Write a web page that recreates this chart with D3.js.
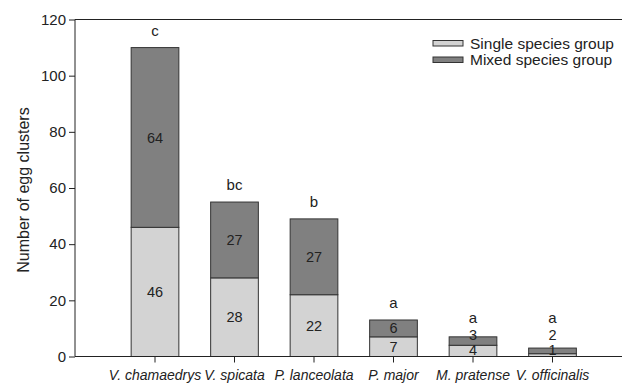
<!DOCTYPE html>
<html>
<head>
<meta charset="utf-8">
<script src="https://cdn.jsdelivr.net/npm/d3@7"></script>
<style>
  body { margin: 0; background: #fff; }
  text { font-family: "Liberation Sans", Arial, sans-serif; fill: #222; }
</style>
</head>
<body>
<script>
var species = ["V. chamaedrys", "V. spicata", "P. lanceolata", "P. major", "M. pratense", "V. officinalis"];
var single = [46, 28, 22, 7, 4, 1];
var mixed = [64, 27, 27, 6, 3, 2];
var letters = ["c", "bc", "b", "a", "a", "a"];
var yTicks = [0, 20, 40, 60, 80, 100, 120];
var seriesNames = ["Single species group", "Mixed species group"];
var colors = ["#d3d3d3", "#808080"];

var width = 622, height = 383;
var svg = d3.select("body").append("svg")
  .attr("width", width)
  .attr("height", height);

var x = d3.scaleBand().domain(species).range([115.25, 592.25])
  .paddingInner(0.4).paddingOuter(0.2);
var y = d3.scaleLinear().domain([0, 120]).range([356.5, 19.5]);

var rows = species.map(function (s, i) {
  return { name: s, single: single[i], mixed: mixed[i], letter: letters[i] };
});
var stack = d3.stack().keys(["single", "mixed"])(rows);

// bars
var layers = svg.append("g").selectAll("g").data(stack).enter().append("g")
  .attr("fill", function (d, i) { return colors[i]; });
layers.selectAll("rect").data(function (d) { return d; }).enter().append("rect")
  .attr("x", function (d) { return x(d.data.name); })
  .attr("width", x.bandwidth())
  .attr("y", function (d) { return y(d[1]); })
  .attr("height", function (d) { return y(d[0]) - y(d[1]); })
  .attr("stroke", "#333")
  .attr("stroke-width", 1);

// segment labels (pushed apart when the segments are thin)
var labelG = svg.append("g");
var topLabel = {};
rows.forEach(function (r) {
  var y0 = Math.min((y(0) + y(r.single)) / 2, y(0) - 7);
  var y1 = (y(r.single) + y(r.single + r.mixed)) / 2;
  if (y0 - y1 < 15) y1 = y0 - 15;
  topLabel[r.name] = y1;
  [[r.single, y0], [r.mixed, y1]].forEach(function (p) {
    labelG.append("text")
      .attr("x", x(r.name) + x.bandwidth() / 2)
      .attr("y", p[1])
      .attr("dy", "0.35em")
      .attr("text-anchor", "middle")
      .style("font-size", "14.5px")
      .text(p[0]);
  });
});

// significance letters
svg.append("g").selectAll("text").data(rows).enter().append("text")
  .attr("x", function (d) { return x(d.name) + x.bandwidth() / 2; })
  .attr("y", function (d) {
    return Math.min(y(d.single + d.mixed) - 12, topLabel[d.name] - 12);
  })
  .attr("text-anchor", "middle")
  .style("font-size", "15px")
  .text(function (d) { return d.letter; });

// axes
var yAxis = svg.append("g").attr("transform", "translate(75,0)")
  .call(d3.axisLeft(y).tickValues(yTicks).tickSize(6).tickPadding(3));
var xAxis = svg.append("g").attr("transform", "translate(0," + y(0) + ")")
  .call(d3.axisBottom(x).tickSize(6).tickPadding(8));
[yAxis, xAxis].forEach(function (a) {
  a.select(".domain").remove();
  a.selectAll("line").attr("stroke", "#222");
  a.selectAll("text").style("font-size", "15px").attr("fill", "#222")
    .style("font-family", "'Liberation Sans', Arial, sans-serif");
});
xAxis.selectAll("text").style("font-style", "italic").style("font-size", "14px");

svg.append("line").attr("x1", 75).attr("x2", width)
  .attr("y1", y(0)).attr("y2", y(0)).attr("stroke", "#222");
svg.append("line").attr("x1", 75).attr("x2", width)
  .attr("y1", y(120)).attr("y2", y(120)).attr("stroke", "#222");
svg.append("line").attr("x1", 75).attr("x2", 75)
  .attr("y1", y(0)).attr("y2", y(120)).attr("stroke", "#222");

// y title
svg.append("text")
  .attr("transform", "translate(23," + ((y(0) + y(120)) / 2 + 2) + ") rotate(-90)")
  .attr("dy", "0.35em")
  .attr("text-anchor", "middle")
  .style("font-size", "16px")
  .text("Number of egg clusters");

// legend
var legend = svg.append("g").selectAll("g").data(seriesNames).enter().append("g")
  .attr("transform", function (d, i) { return "translate(433," + (40.5 + i * 16.5) + ")"; });
legend.append("rect")
  .attr("width", 30).attr("height", 5.5)
  .attr("fill", function (d, i) { return colors[i]; })
  .attr("stroke", "#333");
legend.append("text")
  .attr("x", 37).attr("y", 3)
  .attr("dy", "0.35em")
  .style("font-size", "15.5px")
  .text(function (d) { return d; });
</script>
</body>
</html>
